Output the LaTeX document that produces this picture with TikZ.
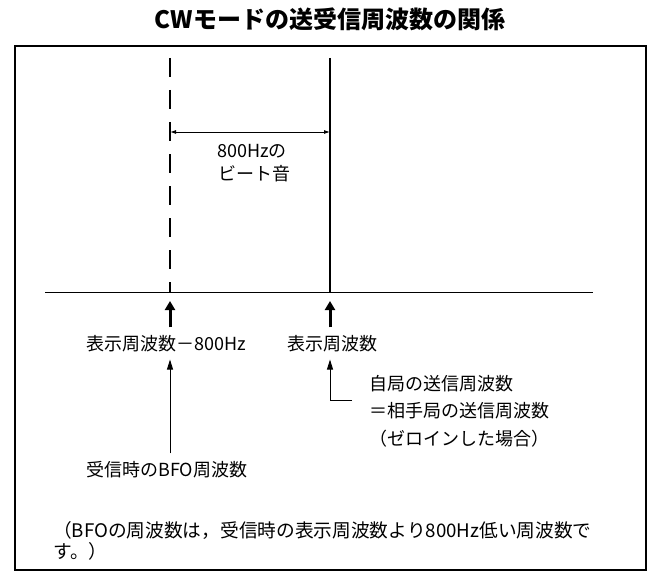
\documentclass[tikz,border=0pt]{standalone}
\usepackage{fontspec}
\setmainfont{Noto Sans CJK JP}
\usepackage{tikz}
\usetikzlibrary{arrows.meta, positioning, calc}

\begin{document}
\begin{tikzpicture}[
  x=1pt, y=-1pt,
  txt/.style={font=\fontsize{18}{22}\selectfont, inner sep=0pt, align=left},
  ttl/.style={font=\fontsize{24}{26}\selectfont\bfseries, inner sep=0pt},
  bigarrow/.style={line width=3pt, -{Triangle[width=10pt,length=9pt]}},
  thinarrow/.style={line width=0.9pt, -{Triangle[width=6pt,length=10pt]}},
  dimarrow/.style={line width=0.9pt, {Latex[length=6pt,width=4pt]}-{Latex[length=6pt,width=4pt]}},
]

\useasboundingbox (0,0) rectangle (650,575);

% タイトル
\node[ttl] (title) at (330,19) {CWモードの送受信周波数の関係};

% 枠
\draw[line width=1.4pt] (15,46) rectangle (646,570);

% 周波数軸
\coordinate (axl) at (45,292);
\coordinate (axr) at (593,292);
\draw[line width=1pt] (axl) -- (axr);

% 受信時のBFO（破線）と表示周波数（実線）
\coordinate (lowtop) at (170,58);
\coordinate (lowfoot) at (170,292);
\coordinate (disptop) at (330,58);
\coordinate (dispfoot) at (330,292);
\draw[line width=1.1pt, dash pattern=on 19pt off 13pt] (lowtop) -- (lowfoot);
\draw[line width=1.2pt] (disptop) -- (dispfoot);

% ビート音の幅
\coordinate (diml) at (170,132);
\coordinate (dimr) at (330,132);
\draw[dimarrow] (diml) -- (dimr);
\node[txt, font=\fontsize{18}{23}\selectfont, anchor=west] (beat) at (217,163.5) {800Hzの\\\hspace{1pt}ビート音};

% 周波数のラベル
\node[txt, anchor=west] (lowlbl) at (86,344) {表示周波数－800Hz};
\node[txt, anchor=west] (displbl) at (287,344) {表示周波数};
\draw[bigarrow, shorten <=8pt, shorten >=9pt] (lowlbl.north -| lowfoot) -- (lowfoot);
\draw[bigarrow, shorten <=8pt, shorten >=9pt] (displbl.north -| dispfoot) -- (dispfoot);

% BFO周波数
\node[txt, anchor=west] (bfolbl) at (86,470) {受信時のBFO周波数};
\draw[thinarrow, shorten <=8pt, shorten >=7pt] (bfolbl.north -| lowfoot) -- (lowlbl.south -| lowfoot);

% 自局・相手局の送信周波数
\node[txt, font=\fontsize{18}{27.5}\selectfont, anchor=west] (ownlbl) at (369,411)
  {自局の送信周波数\\＝相手局の送信周波数\\（ゼロインした場合）};
\coordinate (bend) at (352,400);
\draw[thinarrow, shorten >=7pt] (bend) -| (displbl.south -| dispfoot);

% 注記
\node[txt, font=\fontsize{18.7}{21}\selectfont, anchor=west] (note) at (53,540.5)
  {（BFOの周波数は，受信時の表示周波数より800Hz低い周波数で\\す。）};

\end{tikzpicture}
\end{document}
